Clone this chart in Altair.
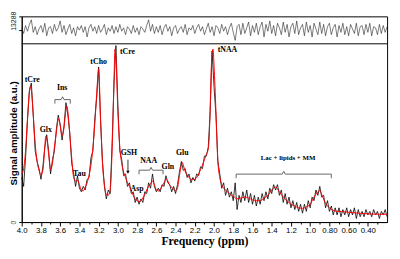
import altair as alt
import pandas as pd

# ---------------- data ----------------
# black measured spectrum, sampled every 0.02 ppm from 4.00 down to 0.20
ppm_grid = [round(4.00 - 0.02 * i, 2) for i in range(191)]
spectrum = [
    25, 20, 36, 57, 74,  78, 60, 40, 34, 30,
    24, 31, 42, 49, 40,  27, 35, 40, 52, 60,
    55, 46, 54, 67, 60,  50, 33, 27, 20, 26,
    19, 17, 20, 18, 24,  25, 36, 40, 58, 70,
    87, 57, 34, 20, 13,  18, 16, 44, 78, 99,
    66, 40, 35, 26, 27,  20, 22, 16, 17, 11,
    14, 10, 13, 11, 17,  16, 22, 19, 27, 20,
    17, 19, 17, 21, 20,  26, 22, 21, 17, 20,
    16, 21, 28, 34, 29,  30, 25, 27, 22, 25,
    23, 27, 26, 31, 30,  37, 37, 42, 62, 96,
    76, 60, 34, 27, 19,  22, 15, 19, 14, 17,
    12, 22, 7, 15, 11,   17, 12, 18, 11, 16,
    10, 15, 9, 14, 10,   16, 12, 17, 13, 19,
    16, 21, 18, 21, 15,  18, 11, 16, 10, 14,
    8, 12, 7, 11, 6,     10, 5, 10, 6, 12,
    8, 14, 12, 18, 15,   20, 14, 15, 8, 12,
    6, 9, 4, 8, 4,       8, 3, 7, 4, 8,
    3, 7, 4, 8, 2,       7, 3, 6, 3, 7,
    4, 6, 3, 7, 4,       6, 2, 6, 4, 7,
    3,
]

# red fitted curve
fit_ppm = [4.00, 3.98, 3.96, 3.94, 3.92, 3.91, 3.90, 3.88, 3.86, 3.84, 3.82, 3.80, 3.78,
           3.76, 3.75, 3.74, 3.72, 3.70, 3.68, 3.66, 3.64, 3.62, 3.60, 3.58, 3.56, 3.54,
           3.53, 3.52, 3.50, 3.48, 3.46, 3.44, 3.42, 3.40, 3.38, 3.36, 3.34, 3.32, 3.30,
           3.28, 3.26, 3.24, 3.22, 3.20, 3.18, 3.16, 3.14, 3.12, 3.10, 3.08, 3.06, 3.04,
           3.03, 3.02, 3.00, 2.98, 2.96, 2.94, 2.92, 2.90, 2.88, 2.86, 2.84, 2.82, 2.80,
           2.78, 2.76, 2.74, 2.72, 2.70, 2.68, 2.66, 2.64, 2.62, 2.60, 2.58, 2.56, 2.54,
           2.52, 2.50, 2.48, 2.46, 2.44, 2.42, 2.40, 2.38, 2.36, 2.34, 2.33, 2.32, 2.30,
           2.28, 2.26, 2.24, 2.22, 2.20, 2.18, 2.16, 2.14, 2.12, 2.10, 2.08, 2.06, 2.05,
           2.04, 2.03, 2.02, 2.01, 2.00, 1.99, 1.98, 1.96, 1.94, 1.92, 1.90, 1.88, 1.86,
           1.84, 1.82, 1.80, 1.76, 1.72, 1.68, 1.64, 1.60, 1.56, 1.52, 1.48, 1.44, 1.40,
           1.36, 1.32, 1.28, 1.24, 1.20, 1.16, 1.12, 1.08, 1.04, 1.00, 0.96, 0.92, 0.90,
           0.88, 0.84, 0.80, 0.76, 0.70, 0.60, 0.50, 0.40, 0.30, 0.20]
fit_val = [27, 30, 40, 58, 73, 76, 74, 60, 44, 34, 29, 26.5, 29,
           42, 48, 47, 38, 29.5, 33, 42, 50, 58, 54, 48.5, 53, 63,
           65, 62, 49, 36, 25, 23, 23.5, 21, 18, 17.5, 19.5, 22, 26,
           32, 41, 55, 72, 86, 58, 33, 21, 15.5, 15, 18, 40, 80,
           97, 92, 62, 42, 33, 28, 25, 22, 20, 17.5, 15, 13, 12,
           11.5, 12, 13.5, 15.5, 18, 20, 21.5, 23, 21, 18, 17.5, 18.5, 20,
           22, 24, 23, 20.5, 19.5, 18.5, 17.5, 19, 26, 32, 33.5, 32, 28.5,
           26.5, 25, 24, 24, 24, 25, 27, 29.5, 32, 35, 38, 41, 48,
           64, 84, 95, 97, 88, 76, 62, 34, 25, 21, 19, 18, 17,
           16, 15, 14.5, 13, 13.5, 14, 13.5, 12.5, 12, 12, 13.5, 15, 18,
           19.6, 17, 14, 12, 10, 9, 8, 7.7, 8.5, 10, 14, 17, 17.6,
           15.5, 10.5, 8, 6.5, 6, 5.5, 5, 4.6, 4.4, 4.4]

# residual (top strip), same 0.02 ppm grid
residual = [
    2, -3, 4, -1, 5, 9, -2, 3, -4, 1,
    4, -2, 6, -5, 2, 3, -3, 5, -1, 2,
    8, -2, 4, -4, 1, 5, -3, 2, -5, 3,
    0, 4, -2, 3, -6, 2, 5, -1, 3, -3,
    4, -2, 1, 5, -4, 2, -1, 4, -3, 3,
    -2, 5, -1, 2, -4, 3, 1, -3, 4, -2,
    2, -4, 3, 1, -2, 4, 9, -1, 5, -3,
    3, -2, 4, -4, 2, 5, -1, 3, -5, 2,
    4, -3, 1, 3, -2, 5, -4, 2, 0, 4,
    -3, 2, 5, -1, 3, -4, 1, 6, -2, 3,
    -5, 4, 2, -3, 5, -1, 3, -4, 2, 6,
    -2, -9, 3, 5, -4, 6, -3, 2, 7, -5,
    4, -2, 6, -4, 3, 7, -6, 5, -1, 8,
    -3, 4, -5, 6, 2, -4, 7, -2, 5, -6,
    3, 6, -3, 8, -4, 2, 5, -5, 7, -2,
    4, -6, 6, 1, -4, 7, -3, 5, -5, 3,
    6, -4, 2, 5, -6, 4, -2, 6, -4, 3,
    -5, 5, 1, -3, 6, -5, 3, 4, -4, 5,
    -2, 6, -5, 3, 2, -4, 5, -3, 4, -2,
    3,
]

# peak labels
ann_text = ["tCre", "Glx", "Ins", "tCho", "tCre", "Tau", "GSH", "Asp", "NAA", "Gln",
            "Glu", "tNAA", "Lac + lipids + MM"]
ann_ppm = [3.89, 3.75, 3.58, 3.20, 2.90, 3.40, 2.885, 2.80, 2.68, 2.48, 2.33, 1.86, 1.23]
ann_val = [79.5, 51.6, 75.4, 89.7, 95.6, 27, 38.5, 18.7, 34, 30.6, 38.8, 96.5, 36]
ann_size = [8, 8, 8, 8, 8, 8, 8, 8, 8, 8, 8, 8, 7]

# brackets: name, start ppm, end ppm, level, middle ppm
br_name = ["Ins", "NAA", "Lac"]
br_start = [3.655, 2.78, 1.77]
br_end = [3.495, 2.53, 0.78]
br_level = [68.7, 29.1, 26.9]
br_mid = [3.575, 2.655, 1.275]

# GSH arrow
arrow_ppm = [2.895]
arrow_top = [35.0]
arrow_bot = [28.0]

# the residual strip sits above the spectrum: spectrum 0..100, strip 100..115.4
STRIP_LOW, STRIP_MID, STRIP_TOP = 100.0, 107.7, 115.4
RES_SCALE = 0.64  # strip units per residual unit

assert len(spectrum) == len(ppm_grid) == len(residual)
assert len(fit_ppm) == len(fit_val)

# ---------------- tables ----------------
spec_df = pd.DataFrame({"ppm": ppm_grid, "val": spectrum})
fit_df = pd.DataFrame({"ppm": fit_ppm, "val": fit_val})
res_df = pd.DataFrame({"ppm": ppm_grid, "res": residual})
ann_df = pd.DataFrame({"ppm": ann_ppm, "val": ann_val, "label": ann_text, "fs": ann_size})

rows = []
for n, a, b, lv, m in zip(br_name, br_start, br_end, br_level, br_mid):
    pts = [(a, lv - 2.3), (a, lv), (m + 0.015, lv), (m, lv + 1.6), (m - 0.015, lv),
           (b, lv), (b, lv - 2.3)]
    for k, (p, v) in enumerate(pts):
        rows.append({"name": n, "k": k, "ppm": p, "val": v})
br_df = pd.DataFrame(rows)
arr_df = pd.DataFrame({"ppm": arrow_ppm, "val": arrow_top, "val2": arrow_bot})
sep_df = pd.DataFrame({"val": [STRIP_LOW]})

# ---------------- scales / axes ----------------
xscale = alt.Scale(domain=[0.2, 4.0], reverse=True, nice=False, zero=False)
yscale = alt.Scale(domain=[0, STRIP_TOP], nice=False, zero=False)

tick_vals = [round(4.0 - 0.1 * i, 1) for i in range(38)]
xaxis = alt.Axis(
    values=tick_vals,
    labelExpr="(round(datum.value*10) % 2 != 0 || datum.value < 0.35) ? '' : "
              "(datum.value >= 0.95 ? format(datum.value, '.1f') : format(datum.value, '.2f'))",
    tickSize=alt.condition("round(datum.value*10) % 2 == 0", alt.value(4), alt.value(2)),
    labelFont="Liberation Sans", labelFontSize=8, labelColor="black",
    labelPadding=1, labelOverlap=False, labelFlush=False,
    titleFont="Liberation Serif", titleFontSize=12, titleFontWeight="bold",
    titleColor="black", titlePadding=1,
    domainColor="black", tickColor="black", grid=False,
)
yaxis = alt.Axis(
    values=[0, STRIP_MID, STRIP_TOP],
    labelExpr="datum.value < 1 ? '0' : (datum.value > 110 ? '13288' : '158466')",
    labelAngle=270,
    labelAlign={"condition": {"test": "datum.value > 100 && datum.value < 110",
                              "value": "right"}, "value": "center"},
    labelOffset={"condition": {"test": "datum.value > 110", "value": 4.5}, "value": 0},
    labelBaseline="bottom", labelPadding=2, tickSize=3, tickColor="black",
    labelFont="Liberation Sans", labelFontSize=7, labelColor="#222222",
    titleFont="Liberation Sans", titleFontSize=10, titleFontWeight="bold",
    titleColor="black", titleAngle=270, titleAlign="center", titleBaseline="top",
    titleX=-13, titleY=119, domainColor="black", grid=False,
)

X = alt.X("ppm:Q", scale=xscale, axis=xaxis, title="Frequency (ppm)")
Y = alt.Y("val:Q", scale=yscale, axis=yaxis, title="Signal amplitude (a.u.)")

resid = alt.Chart(res_df).transform_calculate(
    val=f"{STRIP_MID} + datum.res * {RES_SCALE}"
).mark_line(color="#222222", strokeWidth=0.6).encode(x=X, y=Y)
sep = alt.Chart(sep_df).mark_rule(color="black", strokeWidth=1).encode(y=Y)
black = alt.Chart(spec_df).mark_line(color="black", strokeWidth=0.8).encode(x=X, y=Y)
red = alt.Chart(fit_df).mark_line(color="#ff0000", strokeWidth=1.0,
                                  interpolate="monotone").encode(x=X, y=Y)
texts = alt.Chart(ann_df).mark_text(font="Liberation Serif", fontWeight="bold",
                                    color="black", baseline="middle").encode(
    x=X, y=Y, text="label:N", size=alt.Size("fs:Q", scale=None, legend=None))
brackets = alt.Chart(br_df).mark_line(color="#555555", strokeWidth=0.9).encode(
    x=X, y=Y, detail="name:N", order="k:Q")
arrow = alt.Chart(arr_df).mark_rule(color="black", strokeWidth=0.8).encode(
    x=X, y=Y, y2="val2:Q")
arrow_head = alt.Chart(arr_df).mark_point(shape="triangle-down", filled=True,
                                          color="black", size=12, opacity=1).encode(
    x=X, y=alt.Y("val2:Q", scale=yscale, axis=yaxis, title="Signal amplitude (a.u.)"))

chart = alt.layer(resid, sep, black, red, brackets, arrow, arrow_head, texts).properties(
    width=373, height=210,
    autosize=alt.AutoSizeParams(type="none"),
    padding={"left": 14, "top": 6, "right": 5, "bottom": 27},
    background="white",
).configure_view(stroke="black", strokeWidth=1)

chart.save("out.html", embed_options={"renderer": "svg", "actions": False})
